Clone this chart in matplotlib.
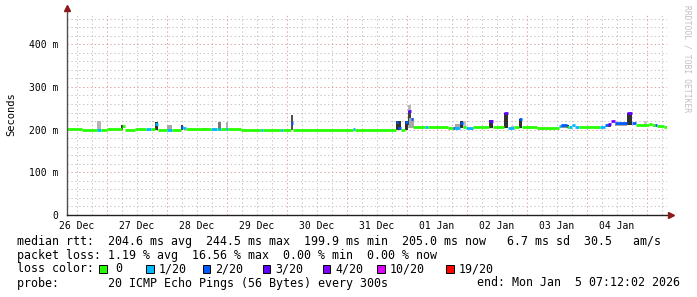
import numpy as np
import matplotlib
matplotlib.use("Agg")
from matplotlib import pyplot as plt
from matplotlib.patches import Rectangle

# time in hours since 26 Dec 00:00, rtt in ms
median_edges_h = [8, 14, 20, 21.6, 24, 30, 31.2, 35.2, 39.6, 41.6, 43.2, 44.4, 48, 50, 53.6, 54.4, 55.6,
                  65.6, 68, 68.4, 69.6, 71.6, 72.4, 77.6, 85.6, 86.4, 93.6, 94.4, 97.6, 98.4, 122.4, 123.2,
                  139.6, 140.4, 141.6, 143.2, 144.4, 145.6, 146.4, 151.2, 152.4, 160.4, 162.4, 163.2, 165.2,
                  166.4, 167.6, 170.4, 176.8, 178.4, 182.8, 184.4, 186.8, 188.8, 190, 196, 204.8, 205.6, 208,
                  208.8, 210, 211.2, 212.8, 221.2, 223.2, 224.4, 225.6, 227.2, 232, 234, 235.6, 240.8, 242,
                  243.2, 244, 246.8, 248]
median_ms = [201, 200, 200, 200, 201, 209, 200, 201, 201, 201, 214, 200, 200, 200, 207, 203, 201,
             201, 201, 201, 201, 201, 202, 200, 200, 200, 200, 200, 215, 200, 201,
             200, 218, 204, 198, 217, 243, 225, 206, 206, 206, 205, 204, 204, 216,
             206, 205, 206, 220, 206, 238, 205, 206, 226, 206, 205, 208, 212, 207,
             207, 212, 206, 206, 206, 210, 214, 220, 216, 238, 216, 212, 213, 211,
             211, 209, 206]
median_loss = [0, 0, 1, 0, 0, 0, 0, 0, 1, 0, 1, 0, 1, 0, 2, 1, 0,
               1, 0, 1, 0, 1, 0, 0, 1, 0, 1, 0, 2, 0, 1,
               0, 2, 2, 0, 2, 3, 2, 0, 1, 0, 0, 2, 1, 2,
               0, 1, 0, 3, 0, 3, 1, 0, 2, 0, 0, 1, 2, 0,
               1, 1, 1, 0, 1, 2, 3, 4, 2, 3, 2, 0, 0, 0,
               2, 0, 0]

smoke_start = [20, 29.6, 43.2, 48, 53.6, 62.4, 68.4, 71.6, 97.6, 139.6, 143.2, 144.4, 144.4, 144.8,
               163.2, 165.2, 166.4, 176.8, 182.8, 185.6, 188.8, 205.6, 208, 224.4, 227.2, 232, 238.8]
smoke_end = [21.6, 30.4, 44.4, 50, 54.4, 64, 69.6, 72.4, 98.4, 141.6, 144.4, 145.6, 145.6, 146.8,
             165.2, 166.4, 167.6, 178.4, 184.4, 186.8, 190, 208, 208.8, 225.6, 232, 234, 240]
smoke_low = [200, 200, 200, 200, 200, 200, 200, 200, 200, 200, 200, 205, 210, 205,
             205, 205, 205, 205, 205, 205, 205, 205, 205, 206, 208, 210, 212]
smoke_high = [220, 211, 217, 211, 210, 205, 218, 218, 234, 220, 220, 257, 243, 228,
              213, 220, 220, 222, 238, 209, 226, 212, 212, 214, 216, 238, 220]
smoke_gray = ["#b4b4b4", "#303030", "#303030", "#a8a8a8", "#404040", "#a0a0a0", "#787878", "#b0b0b0",
              "#505050", "#303030", "#303030", "#b8b8b8", "#404040", "#a8a8a8", "#a8a8a8", "#303030",
              "#c0c0c0", "#303030", "#303030", "#c0c0c0", "#303030", "#909090", "#303030", "#505050",
              "#a8a8a8", "#303030", "#c8c8c8"]

loss_labels = ["0", "1/20", "2/20", "3/20", "4/20", "10/20", "19/20"]
loss_colors = ["#26ff00", "#00b8ff", "#0059ff", "#5e00ff", "#7e00ff", "#dd00ff", "#ff0000"]

day_labels = ["26 Dec", "27 Dec", "28 Dec", "29 Dec", "30 Dec", "31 Dec", "01 Jan", "02 Jan", "03 Jan", "04 Jan"]
y_ticks = [0, 100, 200, 300, 400]
y_labels = ["0", "100 m", "200 m", "300 m", "400 m"]

legend_lines = [
    "median rtt:  204.6 ms avg  244.5 ms max  199.9 ms min  205.0 ms now   6.7 ms sd  30.5   am/s",
    "packet loss: 1.19 % avg  16.56 % max  0.00 % min  0.00 % now",
    "loss color:",
    "probe:       20 ICMP Echo Pings (56 Bytes) every 300s",
]
end_text = "end: Mon Jan  5 07:12:02 2026"

W, H = 697, 297
MONO = "DejaVu Sans Mono"
ARROW = "#8b1a1a"


def fx(px):
    return px / W


def fy(py):
    return 1 - py / H


fig = plt.figure(figsize=(W / 100, H / 100), dpi=100, facecolor="white")
ax = fig.add_axes([fx(67), fy(215), 600 / W, (215 - 14.4) / H])
ax.set_xlim(8, 248)
ax.set_ylim(0, 470)
ax.set_facecolor("white")

# grid
dot = (0, (1.4, 2.6))
hrs = np.arange(12, 248, 6)
ax.vlines([h for h in hrs if h % 24], 0, 470, colors="#c4c4c4", lw=0.7, linestyles=dot, zorder=1)
ax.vlines(np.arange(24, 248, 24), 0, 470, colors="#e4a0a0", lw=0.7, linestyles=dot, zorder=1)
ys = np.arange(20, 470, 20)
ax.hlines([v for v in ys if v % 100], 8, 248, colors="#c4c4c4", lw=0.7, linestyles=dot, zorder=1)
ax.hlines([100, 200, 300, 400], 8, 248, colors="#e4a0a0", lw=0.7, linestyles=dot, zorder=1)

# smoke
for s, e, lo, hi, c in zip(smoke_start, smoke_end, smoke_low, smoke_high, smoke_gray):
    ax.bar(s, hi - lo, width=e - s, bottom=lo, align="edge", color=c, lw=0, zorder=2)

# median coloured by loss
ax.hlines(median_ms, median_edges_h[:-1], median_edges_h[1:],
          colors=[loss_colors[i] for i in median_loss], lw=2.0, capstyle="butt", zorder=3)

# axes
for side in ["top", "right", "left", "bottom"]:
    ax.spines[side].set_visible(False)
ax.plot([0, 0], [0, 1.02], transform=ax.transAxes, color="#505050", lw=1, clip_on=False, zorder=4)
ax.plot([0, 1.005], [0, 0], transform=ax.transAxes, color="#202020", lw=1, clip_on=False, zorder=4)
ax.plot([0], [1.03], transform=ax.transAxes, marker="^", ms=4, color=ARROW, clip_on=False, zorder=5)
ax.plot([1.006], [0], transform=ax.transAxes, marker=">", ms=4, color=ARROW, clip_on=False, zorder=5)

ax.set_xticks(np.arange(12, 248, 24)[:len(day_labels)], day_labels)
ax.set_yticks(y_ticks, y_labels)
ax.tick_params(axis="x", length=0, pad=4, labelsize=7)
ax.tick_params(axis="y", length=0, pad=6, labelsize=7)
for lab in ax.get_xticklabels() + ax.get_yticklabels():
    lab.set_family(MONO)

fig.text(fx(11), fy(114), "Seconds", rotation=90, ha="center", va="center", fontsize=7.5, family=MONO)
fig.text(fx(687), fy(5), "RRDTOOL / TOBI OETIKER", rotation=270, ha="center", va="top",
         fontsize=5.8, family=MONO, color="#c0c0c0")

# legend
for txt, py in zip(legend_lines, [241, 255, 269, 283]):
    fig.text(fx(16.7), fy(py), txt, ha="left", va="center", fontsize=8.4, family=MONO)
fig.text(fx(680), fy(283), end_text, ha="right", va="center", fontsize=8.4, family=MONO)

box_x = [99.3, 146, 202.7, 262.7, 322.7, 377, 446.3]
label_x = [115, 158.5, 215, 275, 335, 389.5, 458.5]
for bx, lx, lab, col in zip(box_x, label_x, loss_labels, loss_colors):
    fig.patches.append(Rectangle((fx(bx), fy(272.5)), 7.5 / W, 7.5 / H, transform=fig.transFigure,
                                 facecolor=col, edgecolor="black", lw=0.7))
    fig.text(fx(lx), fy(269), lab, ha="left", va="center", fontsize=8.4, family=MONO)

fig.savefig("out.png", dpi=100, facecolor="white")
